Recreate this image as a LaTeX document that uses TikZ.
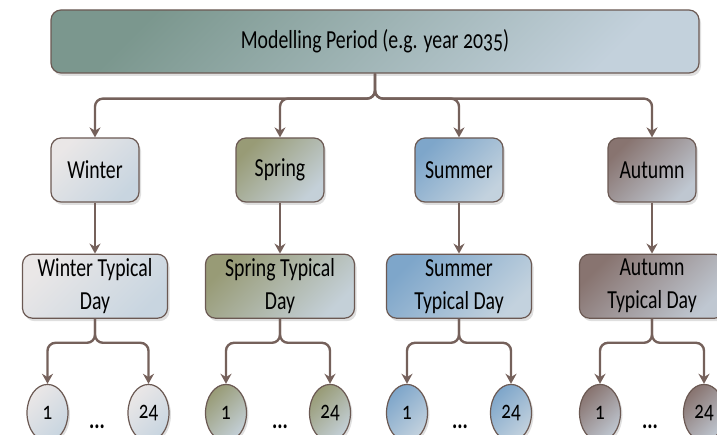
\documentclass[tikz,border=0pt]{standalone}
\usepackage{fontspec}
\setmainfont{Carlito}[FakeStretch=0.76, Numbers=OldStyle]
\usepackage{tikz}
\usetikzlibrary{positioning,arrows.meta,shapes.geometric,shadows}

\definecolor{edgecol}{HTML}{6B5953}
\definecolor{linkcol}{HTML}{75615B}
\definecolor{periodA}{HTML}{7B978E}
\definecolor{periodB}{HTML}{C3D1DC}
\definecolor{winterA}{HTML}{EAE7E7}
\definecolor{winterB}{HTML}{C8D5E0}
\definecolor{springA}{HTML}{989B76}
\definecolor{springB}{HTML}{C4D0D8}
\definecolor{summerA}{HTML}{7EA6CA}
\definecolor{summerB}{HTML}{C3D2DE}
\definecolor{autumnA}{HTML}{887470}
\definecolor{autumnB}{HTML}{BFC7D1}

\begin{document}
\begin{tikzpicture}[
  x=1pt, y=-1pt,
  font=\fontsize{26}{33}\selectfont,
  box/.style    = {draw=edgecol, line width=1.2pt, rounded corners=10pt,
                   align=center, inner sep=0pt,
                   drop shadow={shadow xshift=2pt, shadow yshift=-3pt, opacity=0.25}},
  head/.style   = {box, minimum width=648pt, minimum height=63pt},
  season/.style = {box, minimum width=88pt, minimum height=64pt},
  tday/.style   = {box, minimum width=145pt, minimum height=64pt},
  hour/.style   = {ellipse, draw=edgecol, line width=1.2pt, inner sep=0pt,
                   minimum width=41pt, minimum height=57pt,
                   font=\fontsize{25}{28}\selectfont,
                   drop shadow={shadow xshift=2pt, shadow yshift=-2pt, opacity=0.25}},
  more/.style   = {anchor=base, inner sep=0pt, font=\fontsize{26}{30}\selectfont\bfseries},
  fillc/.style  = {top color=#1A, bottom color=#1B, shading angle=45},
  flow/.style   = {draw=linkcol, line width=2.4pt, rounded corners=8pt,
                   -{Stealth[length=10pt, width=11pt]}},
]
\useasboundingbox (0,0) rectangle (717,435);

% ---------- modelling period ----------
\node[head, fillc=period] (period) at (375,41.5) {Modelling Period (e.g. year 2035)};

% ---------- seasons ----------
\node[season, fillc=winter] (winter) at (95,170)  {Winter};
\node[season, fillc=spring] (spring) at (280,170) {Spring};
\node[season, fillc=summer] (summer) at (459,170) {Summer};
\node[season, fillc=autumn] (autumn) at (652,170) {Autumn};

\draw[flow] (period.south) -- ++(0,25) -| (winter.north);
\draw[flow] (period.south) -- ++(0,25) -| (spring.north);
\draw[flow] (period.south) -- ++(0,25) -| (summer.north);
\draw[flow] (period.south) -- ++(0,25) -| (autumn.north);

% ---------- typical days ----------
\node[tday, fillc=winter, below=51pt of winter] (wintd) {Winter Typical\\Day};
\node[tday, fillc=spring, below=51pt of spring, minimum width=149pt] (sprtd) {Spring Typical\\Day};
\node[tday, fillc=summer, below=51pt of summer] (sumtd) {Summer\\Typical Day};
\node[tday, fillc=autumn, below=51pt of autumn] (auttd) {Autumn\\Typical Day};

\draw[flow] (winter) -- (wintd);
\draw[flow] (spring) -- (sprtd);
\draw[flow] (summer) -- (sumtd);
\draw[flow] (autumn) -- (auttd);

% ---------- hours ----------
\node[hour, fillc=winter, below=65pt of wintd, xshift=-47.5pt] (w1)  {1};
\node[hour, fillc=winter, below=65pt of wintd, xshift=53.5pt]  (w24) {24};
\node[hour, fillc=spring, below=65pt of sprtd, xshift=-54pt]   (s1)  {1};
\node[hour, fillc=spring, below=65pt of sprtd, xshift=50pt]    (s24) {24};
\node[hour, fillc=summer, below=65pt of sumtd, xshift=-52pt]   (u1)  {1};
\node[hour, fillc=summer, below=65pt of sumtd, xshift=52pt]    (u24) {24};
\node[hour, fillc=autumn, below=65pt of auttd, xshift=-52pt]   (a1)  {1};
\node[hour, fillc=autumn, below=65pt of auttd, xshift=52pt]    (a24) {24};

\draw[flow] (wintd.south) -- ++(0,24) -| (w1.north);
\draw[flow] (wintd.south) -- ++(0,24) -| (w24.north);
\draw[flow] (sprtd.south) -- ++(0,24) -| (s1.north);
\draw[flow] (sprtd.south) -- ++(0,24) -| (s24.north);
\draw[flow] (sumtd.south) -- ++(0,24) -| (u1.north);
\draw[flow] (sumtd.south) -- ++(0,24) -| (u24.north);
\draw[flow] (auttd.south) -- ++(0,24) -| (a1.north);
\draw[flow] (auttd.south) -- ++(0,24) -| (a24.north);

\node[more] (wmore) at (97,428)  {...};
\node[more] (smore) at (280,428) {...};
\node[more] (umore) at (460,428) {...};
\node[more] (amore) at (650,428) {...};

\end{tikzpicture}
\end{document}
